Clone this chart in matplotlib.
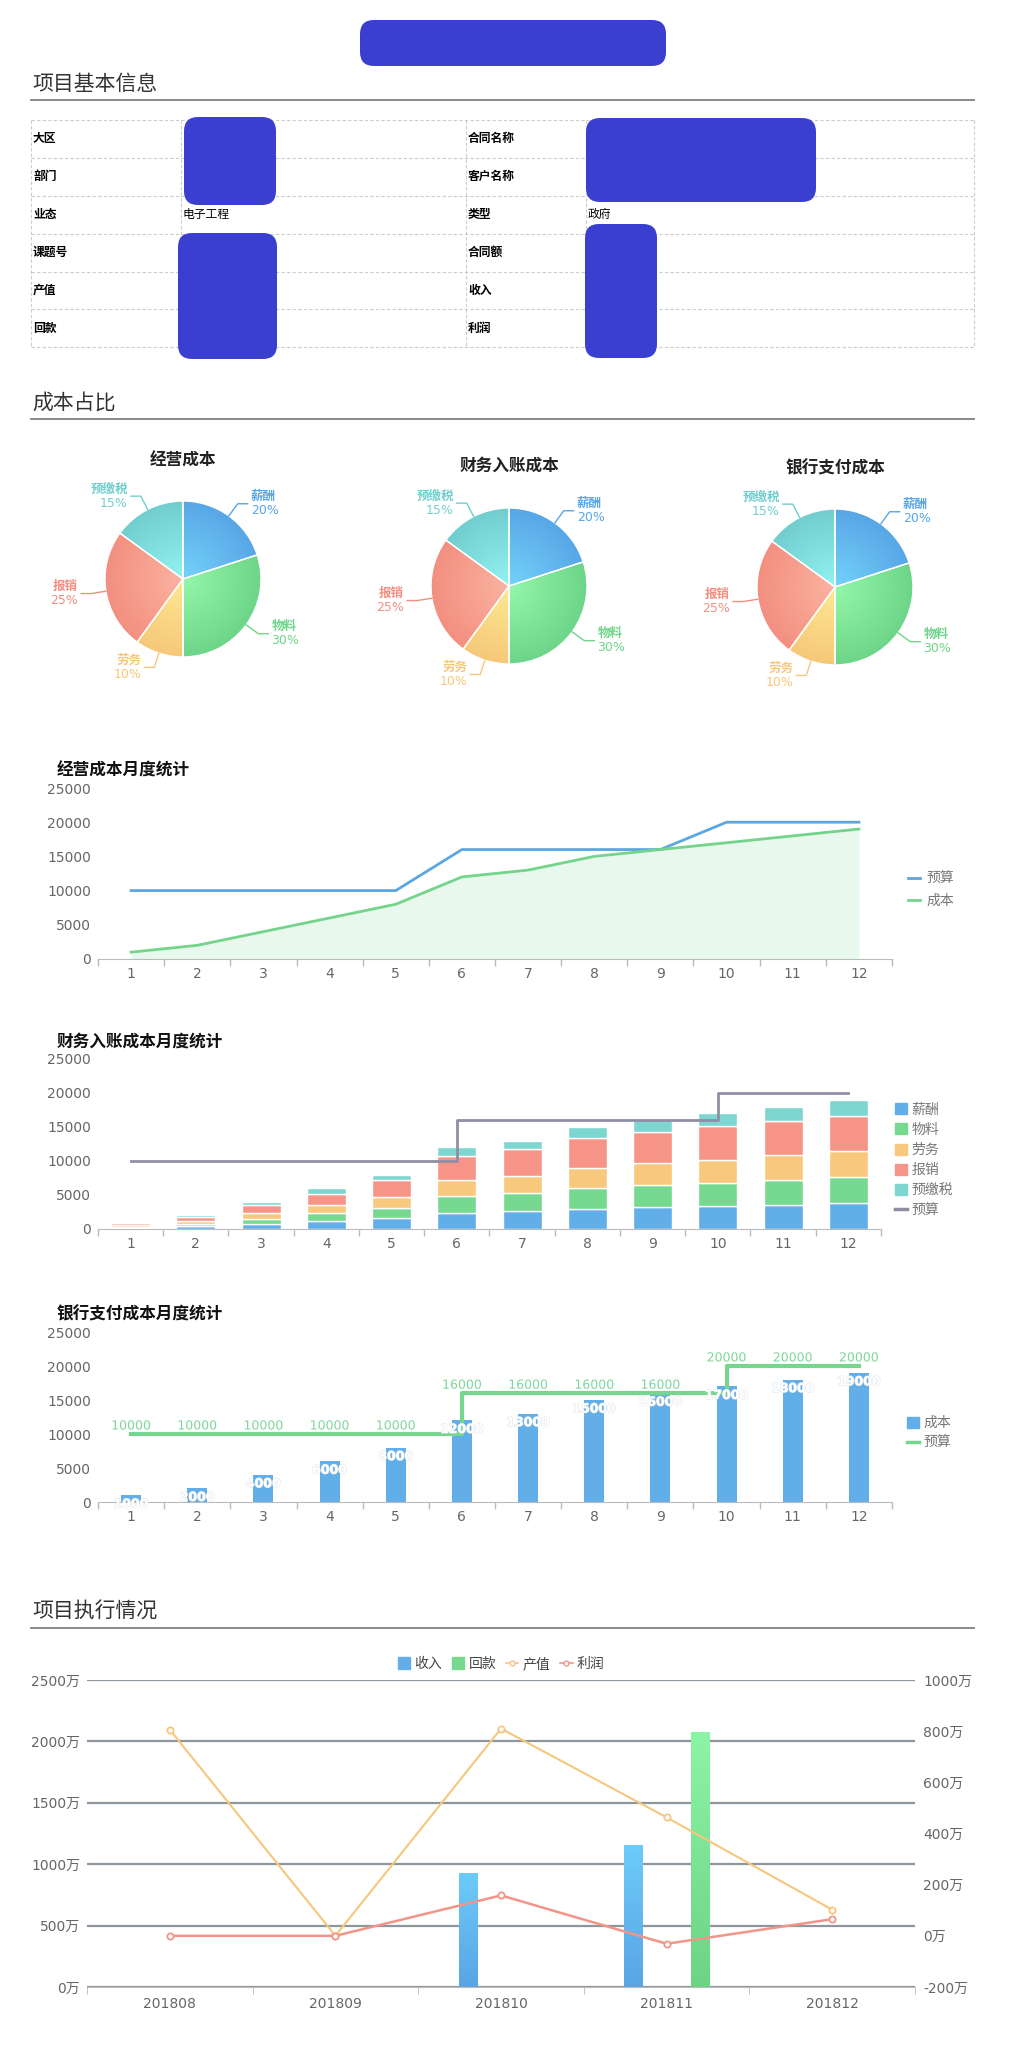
import numpy as np
import matplotlib.pyplot as plt
from matplotlib.patches import FancyBboxPatch, Patch
from matplotlib.lines import Line2D
from matplotlib.colors import to_rgb
import matplotlib.patheffects as pe

plt.rcParams['font.family'] = ['DejaVu Sans', 'Noto Sans CJK SC']

# ---------------- data ----------------
info_left = ['大区', '部门', '业态', '课题号', '产值', '回款']
info_left_val = ['', '', '电子工程', '', '', '']
info_right = ['合同名称', '客户名称', '类型', '合同额', '收入', '利润']
info_right_val = ['', '', '政府', '', '', '']

pie_titles = ['经营成本', '财务入账成本', '银行支付成本']
cost_items = ['薪酬', '物料', '劳务', '报销', '预缴税']
cost_share = [20, 30, 10, 25, 15]

months = ['1', '2', '3', '4', '5', '6', '7', '8', '9', '10', '11', '12']
op_budget = [10000, 10000, 10000, 10000, 10000, 16000, 16000, 16000, 16000, 20000, 20000, 20000]
op_cost = [1000, 2000, 4000, 6000, 8000, 12000, 13000, 15000, 16000, 17000, 18000, 19000]

fin_salary = [200, 400, 700, 1150, 1600, 2400, 2650, 2950, 3250, 3450, 3600, 3800]
fin_material = [150, 350, 800, 1150, 1550, 2400, 2600, 3050, 3250, 3350, 3650, 3850]
fin_labor = [200, 400, 800, 1300, 1550, 2400, 2600, 3000, 3250, 3400, 3700, 3750]
fin_reimb = [300, 550, 1200, 1600, 2450, 3600, 3900, 4450, 4550, 4900, 5000, 5200]
fin_tax = [150, 300, 500, 800, 850, 1200, 1250, 1550, 1700, 1900, 2050, 2400]
fin_budget = [10000, 10000, 10000, 10000, 10000, 16000, 16000, 16000, 16000, 20000, 20000, 20000]

bank_cost = [1000, 2000, 4000, 6000, 8000, 12000, 13000, 15000, 16000, 17000, 18000, 19000]
bank_budget = [10000, 10000, 10000, 10000, 10000, 16000, 16000, 16000, 16000, 20000, 20000, 20000]

periods = ['201808', '201809', '201810', '201811', '201812']
income = [0, 0, 927, 1152, 0]
payback = [0, 0, 0, 2074, 0]
output_value = [806, 0, 810, 463, 102]
profit = [0, 0, 158, -31, 65]

# ---------------- colours ----------------
C_BLUE = '#61aee9'
C_GREEN = '#76d98f'
C_ORANGE = '#f8c97c'
C_RED = '#f69488'
C_TEAL = '#7ed6d0'
C_BUDGET = '#8e8fa6'
pie_grad = [('#74d3fa', '#58a6e6'), ('#94f7ab', '#6dd589'), ('#fde992', '#f6c87a'),
            ('#fbb3a1', '#f38f80'), ('#93f2f3', '#72cece')]
TICK_C = '#666666'

W, H = 1011, 2065
fig = plt.figure(figsize=(W / 100, H / 100), dpi=100)


def px_axes(x0, y0, x1, y1):
    return fig.add_axes([x0 / W, 1 - y1 / H, (x1 - x0) / W, (y1 - y0) / H])


bg = fig.add_axes([0, 0, 1, 1])
bg.set_xlim(0, W)
bg.set_ylim(H, 0)
bg.axis('off')

# redacted blobs
for (x, y, w, h) in [(360, 20, 306, 46), (184, 117, 92, 88), (178, 233, 99, 126),
                     (586, 118, 230, 84), (585, 224, 72, 134)]:
    bg.add_patch(FancyBboxPatch((x, y), w, h, boxstyle='round,pad=0,rounding_size=14',
                                fc='#3a3fcf', ec='none', zorder=5))

# section headers
for txt, ty, ly in [('项目基本信息', 84, 100), ('成本占比', 403, 419), ('项目执行情况', 1612, 1628)]:
    bg.text(32, ty, txt, fontsize=15, color='#333333', va='center', ha='left')
    bg.plot([31, 974], [ly, ly], color='#808080', lw=1.3)

# info table
row_y = [120, 157.5, 195.5, 233.5, 271.5, 309, 347]
col_x = [31, 181, 466, 586, 974]
for y in row_y:
    bg.plot([col_x[0], col_x[-1]], [y, y], color='#cccccc', lw=0.8, ls=(0, (3, 2)))
for x in col_x:
    bg.plot([x, x], [row_y[0], row_y[-1]], color='#cccccc', lw=0.8, ls=(0, (3, 2)))
for r in range(6):
    yc = (row_y[r] + row_y[r + 1]) / 2
    bg.text(col_x[0] + 2, yc, info_left[r], fontsize=8.5, fontweight='bold', va='center')
    bg.text(col_x[1] + 2, yc, info_left_val[r], fontsize=8.5, va='center')
    bg.text(col_x[2] + 2, yc, info_right[r], fontsize=8.5, fontweight='bold', va='center')
    bg.text(col_x[3] + 2, yc, info_right_val[r], fontsize=8.5, va='center')

# ---------------- pies ----------------
pie_pos = [(183, 579, 461), (509, 586, 466), (835, 587, 468)]
R = 78.0
for title, (cx, cy, ty) in zip(pie_titles, pie_pos):
    bg.text(cx, ty, title, fontsize=12, fontweight='bold', ha='center', va='center', color='#222222')
    ax = px_axes(cx - 150, cy - 150, cx + 150, cy + 150)
    wedges, _ = ax.pie(cost_share, startangle=90, counterclock=False, radius=1,
                       wedgeprops=dict(edgecolor='white', linewidth=1))
    xs = np.linspace(-1, 1, 240)
    X, Y = np.meshgrid(xs, xs)
    Rr = np.clip(np.hypot(X, Y), 0, 1)[..., None]
    for wdg, (c_in, c_out), name, share in zip(wedges, pie_grad, cost_items, cost_share):
        ci, co = np.array(to_rgb(c_in)), np.array(to_rgb(c_out))
        img = ci + (co - ci) * Rr
        im = ax.imshow(img, extent=[-1, 1, -1, 1], origin='lower', zorder=1, interpolation='bilinear')
        im.set_clip_path(wdg)
        wdg.set_facecolor('none')
        wdg.set_zorder(2)
        mid = np.deg2rad((wdg.theta1 + wdg.theta2) / 2)
        d = np.array([np.cos(mid), np.sin(mid)])
        p1 = d * 1.0
        p2 = d * (1 + 15 / R)
        sgn = 1 if d[0] >= 0 else -1
        p3 = p2 + np.array([sgn * 10 / R, 0])
        ax.plot([p1[0], p2[0], p3[0]], [p1[1], p2[1], p3[1]], color=c_out, lw=1, zorder=3)
        ha = 'left' if sgn > 0 else 'right'
        tx = p3[0] + sgn * 3 / R
        ax.text(tx, p3[1] + 7 / R, name, color=c_out, fontsize=9, fontweight='bold', ha=ha, va='center')
        ax.text(tx, p3[1] - 7 / R, '%d%%' % share, color=c_out, fontsize=9, ha=ha, va='center')
    ax.set_xlim(-150 / R, 150 / R)
    ax.set_ylim(-150 / R, 150 / R)
    ax.axis('off')


def style_cat_axis(ax, labels, ymax, ystep):
    n = len(labels)
    ax.set_xlim(0.5, n + 0.5)
    ax.set_ylim(0, ymax)
    ax.set_xticks(np.arange(1, n + 1))
    ax.set_xticklabels(labels)
    ax.set_xticks(np.arange(0.5, n + 1), minor=True)
    ax.tick_params(axis='x', which='major', length=0, pad=6, labelsize=10, labelcolor=TICK_C)
    ax.tick_params(axis='x', which='minor', length=5, color='#bbbbbb', width=1)
    ax.set_yticks(np.arange(0, ymax + 1, ystep))
    ax.tick_params(axis='y', length=0, pad=5, labelsize=10, labelcolor=TICK_C)
    for s in ['top', 'right', 'left']:
        ax.spines[s].set_visible(False)
    ax.spines['bottom'].set_color('#bbbbbb')
    ax.patch.set_alpha(0)


x = np.arange(1, 13)

# ---------------- chart 1: operating cost ----------------
bg.text(57, 771, '经营成本月度统计', fontsize=12, fontweight='bold', va='center', color='#111111')
ax1 = px_axes(98, 788, 892, 959)
ax1.fill_between(x, op_cost, color='#e8f8ec', lw=0)
l_b, = ax1.plot(x, op_budget, color='#5ca6e2', lw=2, label='预算')
l_c, = ax1.plot(x, op_cost, color='#74d48b', lw=2, label='成本')
style_cat_axis(ax1, months, 25000, 5000)
ax1.legend(handles=[l_b, l_c], loc='center left', bbox_to_anchor=(901 / W, 1 - 890 / H),
           bbox_transform=fig.transFigure, frameon=False, fontsize=10, labelcolor='#777777',
           handlelength=0.9, handletextpad=0.45, labelspacing=0.6, borderpad=0)

# ---------------- chart 2: finance stacked ----------------
bg.text(57, 1042, '财务入账成本月度统计', fontsize=12, fontweight='bold', va='center', color='#111111')
ax2 = px_axes(98, 1059, 881, 1229)
stack = [fin_salary, fin_material, fin_labor, fin_reimb, fin_tax]
stack_c = [C_BLUE, C_GREEN, C_ORANGE, C_RED, C_TEAL]
bottom = np.zeros(12)
for vals, col, name in zip(stack, stack_c, cost_items):
    ax2.bar(x, vals, width=0.6, bottom=bottom, color=col, edgecolor='white', linewidth=1, label=name)
    bottom = bottom + np.array(vals)
ax2.plot(x, fin_budget, color=C_BUDGET, lw=2, drawstyle='steps-post', label='预算')
style_cat_axis(ax2, months, 25000, 5000)
h2 = [Patch(color=c) for c in stack_c] + [Line2D([], [], color=C_BUDGET, lw=2.5)]
ax2.legend(h2, cost_items + ['预算'], loc='center left', bbox_to_anchor=(888 / W, 1 - 1160 / H),
           bbox_transform=fig.transFigure, frameon=False, fontsize=10, labelcolor='#777777',
           handlelength=0.85, handleheight=0.85, handletextpad=0.35, labelspacing=0.45, borderpad=0)

# ---------------- chart 3: bank payments ----------------
bg.text(57, 1314, '银行支付成本月度统计', fontsize=12, fontweight='bold', va='center', color='#111111')
ax3 = px_axes(98, 1332, 892, 1502)
ax3.bar(x, bank_cost, width=0.3, color=C_BLUE, label='成本')
ax3.plot(x, bank_budget, color='#76d68f', lw=3, drawstyle='steps-post', label='预算')
style_cat_axis(ax3, months, 25000, 5000)
for xi, v in zip(x, bank_cost):
    ax3.annotate(str(v), (xi, v), xytext=(0, -9), textcoords='offset pixels', ha='center', va='center',
                 fontsize=9, color='white', fontweight='bold',
                 path_effects=[pe.withStroke(linewidth=0.8, foreground='#e2e7ec')])
for xi, v in zip(x, bank_budget):
    ax3.annotate(str(v), (xi, v), xytext=(0, 8), textcoords='offset pixels', ha='center', va='center',
                 fontsize=9, color='#7fd698',
                 path_effects=[pe.withStroke(linewidth=2, foreground='white')])
h3 = [Patch(color=C_BLUE), Line2D([], [], color='#76d68f', lw=2.5)]
ax3.legend(h3, ['成本', '预算'], loc='center left', bbox_to_anchor=(900 / W, 1 - 1433 / H),
           bbox_transform=fig.transFigure, frameon=False, fontsize=10, labelcolor='#777777',
           handlelength=0.85, handleheight=0.85, handletextpad=0.35, labelspacing=0.45, borderpad=0)

# ---------------- chart 4: execution ----------------
ax5 = px_axes(87, 1680, 915, 1987)
ax6 = ax5.twinx()
xp = np.arange(1, len(periods) + 1)


def grad_bars(ax, bars, c_top, c_bot):
    ct, cb = np.array(to_rgb(c_top)), np.array(to_rgb(c_bot))
    t = np.linspace(0, 1, 64)[:, None]
    img = (cb + (ct - cb) * t).reshape(64, 1, 3)
    for p in bars:
        h = p.get_height()
        if h <= 0:
            continue
        x0, y0 = p.get_xy()
        ax.imshow(img, extent=[x0, x0 + p.get_width(), y0, y0 + h], origin='lower',
                  aspect='auto', zorder=2, interpolation='bilinear')
        p.set_visible(False)


bi = ax5.bar(xp - 0.2, income, width=0.11, color=C_BLUE, zorder=2)
bp = ax5.bar(xp + 0.2, payback, width=0.11, color=C_GREEN, zorder=2)
grad_bars(ax5, bi, '#6ccbfa', '#5aa5e4')
grad_bars(ax5, bp, '#8bf4a6', '#6cd387')
ax6.plot(xp, output_value, color='#f5c77e', lw=1.5, marker='o', ms=4.5, mfc='white', mew=1.3)
ax6.plot(xp, profit, color='#f29589', lw=1.8, marker='o', ms=4.5, mfc='white', mew=1.3)

ax5.set_xlim(0.5, 5.5)
ax5.set_ylim(0, 2500)
ax5.set_xticks(xp)
ax5.set_xticklabels(periods)
ax5.set_xticks(np.arange(0.5, 6), minor=True)
ax5.tick_params(axis='x', which='major', length=0, pad=7, labelsize=10, labelcolor=TICK_C)
ax5.tick_params(axis='x', which='minor', length=5, color='#bbbbbb')
ax5.set_yticks(np.arange(0, 2501, 500))
ax5.set_yticklabels(['%d万' % v for v in range(0, 2501, 500)])
ax5.tick_params(axis='y', length=0, pad=5, labelsize=10, labelcolor=TICK_C)
ax5.grid(axis='y', color='#8d969d', lw=1.6)
ax5.set_axisbelow(True)
for s in ['top', 'right', 'left']:
    ax5.spines[s].set_visible(False)
    ax6.spines[s].set_visible(False)
ax6.spines['bottom'].set_visible(False)
ax5.spines['bottom'].set_color('#bbbbbb')
ax5.spines['bottom'].set_zorder(3)
ax6.set_ylim(-200, 1000)
ax6.set_yticks(np.arange(-200, 1001, 200))
ax6.set_yticklabels(['%d万' % v for v in range(-200, 1001, 200)])
ax6.tick_params(axis='y', length=0, pad=6, labelsize=10, labelcolor=TICK_C)

h5 = [Patch(color=C_BLUE), Patch(color=C_GREEN),
      Line2D([], [], color='#f5c77e', lw=1.2, marker='o', ms=3.5, mfc='white'),
      Line2D([], [], color='#f29589', lw=1.2, marker='o', ms=3.5, mfc='white')]
ax6.legend(h5, ['收入', '回款', '产值', '利润'], loc='center', bbox_to_anchor=(501 / W, 1 - 1664 / H),
           bbox_transform=fig.transFigure, ncol=4, frameon=False, fontsize=10, labelcolor='#444444',
           handlelength=0.9, handleheight=0.9, handletextpad=0.3, columnspacing=0.7, borderpad=0)

fig.savefig('out.png', dpi=100)
